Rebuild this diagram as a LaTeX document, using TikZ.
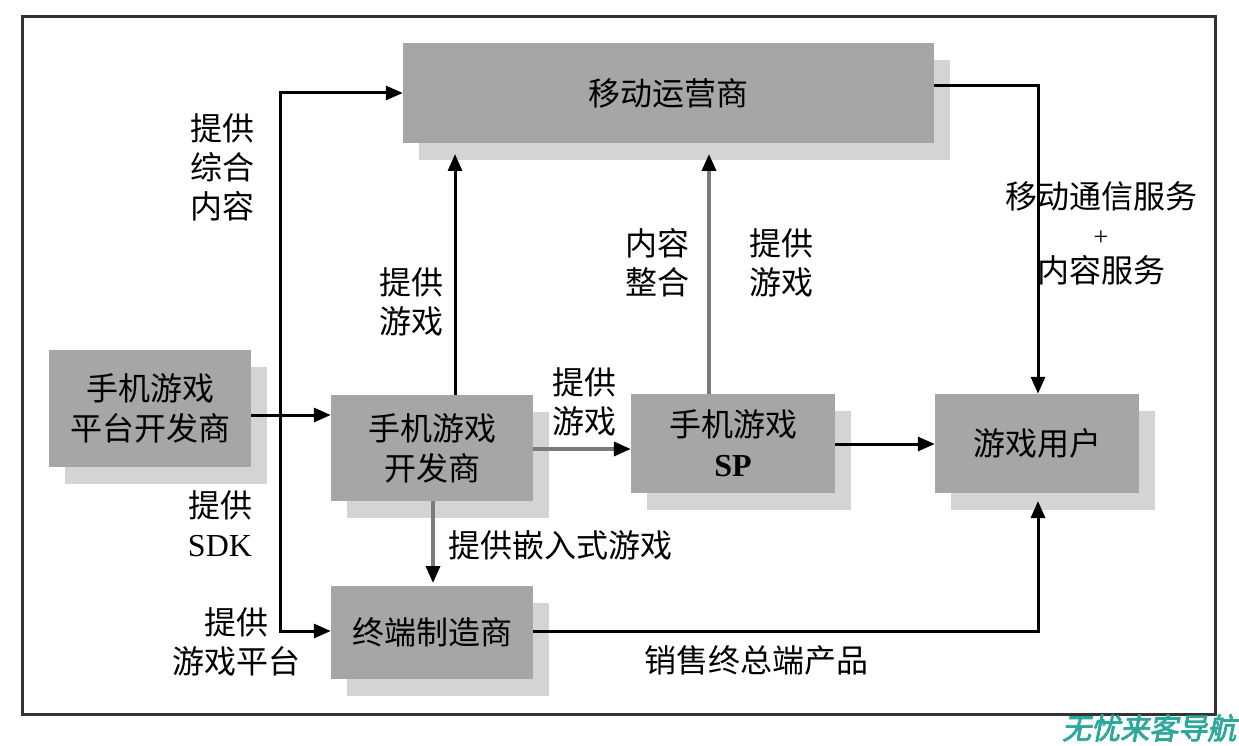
\documentclass[tikz,border=0pt]{standalone}
\usepackage{fontspec}
\setmainfont{Liberation Serif}
\newfontfamily\cjk{Noto Sans CJK SC}
\newfontfamily\wmfont[FakeSlant=0.2,FakeBold=3]{Noto Sans CJK SC}
\usetikzlibrary{arrows.meta,shadows}
\definecolor{boxgray}{HTML}{A6A6A6}
\definecolor{shadowgray}{HTML}{D4D4D4}
\definecolor{linegray}{HTML}{7A7A7A}
\definecolor{frameclr}{HTML}{333333}
\definecolor{wmteal}{HTML}{2FA89C}
\tikzset{
  box/.style={fill=boxgray, draw=none, inner sep=0pt, align=center,
    font=\cjk\fontsize{32}{40}\selectfont,
    general shadow={shadow xshift=16pt, shadow yshift=-17pt, fill=shadowgray, opacity=1}},
  lbl/.style={inner sep=0pt, align=center, font=\cjk\fontsize{32}{39}\selectfont},
  arr/.style={line width=3pt, draw=black, -{Triangle[length=17pt,width=14pt]}},
  garr/.style={line width=3.5pt, draw=linegray, -{Triangle[length=17pt,width=14pt,black]}},
}
\begin{document}
\begin{tikzpicture}[x=1pt,y=-1pt]
\useasboundingbox (0,0) rectangle (1239,746);
\draw[frameclr, line width=3pt] (22,17) rectangle (1215,714);

% boxes
\node[box, minimum width=531pt, minimum height=100pt] (mno) at (668.5,93) {移动运营商};
\node[box, minimum width=202pt, minimum height=117pt] (plat) at (150,408.5) {手机游戏\\平台开发商};
\node[box, minimum width=202pt, minimum height=106pt] (dev) at (432,448) {手机游戏\\开发商};
\node[box, minimum width=202pt, minimum height=93pt] (term) at (432,632.5) {终端制造商};
\node[box, minimum width=204pt, minimum height=99pt] (sp) at (733,443.5) {手机游戏\\{\rmfamily\bfseries SP}};
\node[box, minimum width=204pt, minimum height=99pt] (user) at (1037,443.5) {游戏用户};

% helper coordinates
\coordinate (spine) at (280,415);
\coordinate (mnoS) at (0,154);
\coordinate (c1) at (455,0);
\coordinate (c2) at (709,0);
\coordinate (c3) at (1038,0);
\coordinate (rowA) at (0,86);
\coordinate (rowB) at (0,449);
\coordinate (rowC) at (0,631);
\coordinate (userS) at (0,501);

% connectors
\draw[arr] (plat.east |- spine) -- (dev.west |- spine);
\draw[arr] (spine) |- (mno.west);
\draw[arr] (spine) |- (term.west |- rowC);
\draw[arr] (dev.north -| c1) -- (c1 |- mnoS);
\draw[garr] (sp.north -| c2) -- (c2 |- mnoS);
\draw[garr] (dev.east |- rowB) -- (sp.west |- rowB);
\draw[garr] (dev.south -| 433,0) -- (433,583);
\draw[arr] (sp.east |- 0,444) -- (user.west |- 0,444);
\draw[arr] (mno.east |- rowA) -| (user.north -| c3);
\draw[arr] (term.east |- rowC) -| (c3 |- userS);

% labels
\node[lbl] (l1) at (222,167) {提供\\综合\\内容};
\node[lbl] (l2) at (411,302) {提供\\游戏};
\node[lbl] (l3) at (657,263) {内容\\整合};
\node[lbl] (l4) at (781,263) {提供\\游戏};
\node[lbl] (l5) at (584,402) {提供\\游戏};
\node[lbl, font=\cjk\fontsize{32}{37}\selectfont] (l6) at (1101,233) {移动通信服务\\{\rmfamily\fontsize{26}{37}\selectfont +}\\内容服务};
\node[lbl] (l7) at (220,524) {提供\\{\rmfamily SDK}};
\node[lbl] (l8) at (236,642) {提供\\游戏平台};
\node[lbl] (l9) at (560,545) {提供嵌入式游戏};
\node[lbl] (l10) at (756,660) {销售终总端产品};
\node[inner sep=0pt, anchor=west, text=wmteal, font=\wmfont\fontsize{29}{32}\selectfont] (wm) at (1062,728) {无忧来客导航};
\end{tikzpicture}
\end{document}
